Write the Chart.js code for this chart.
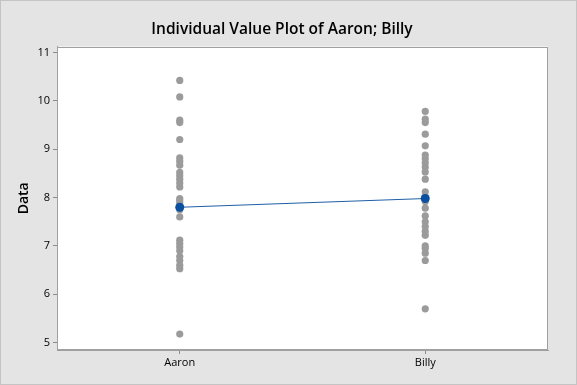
<!DOCTYPE html>
<html>
<head>
<meta charset="utf-8">
<script src="https://cdn.jsdelivr.net/npm/chart.js@4.4.1/dist/chart.umd.min.js"></script>
<style>
  html, body { margin: 0; padding: 0; background: #e4e4e4; }
  #wrap { width: 577px; height: 385px; }
</style>
</head>
<body>
<div id="wrap"><canvas id="chart" width="577" height="385"></canvas></div>
<script>
// groups shown on the x axis
const groups = ['Aaron', 'Billy']
// individual values
const aaronValues = [10.42, 10.08, 9.6, 9.55, 9.2, 8.82, 8.75, 8.67, 8.52, 8.45, 8.38, 8.3, 8.22,
  7.98, 7.93, 7.88, 7.75, 7.6, 7.12, 7.05, 6.98, 6.9, 6.78, 6.7, 6.6, 6.53, 5.18]
const billyValues = [9.78, 9.62, 9.55, 9.31, 9.07, 8.88, 8.8, 8.72, 8.63, 8.53, 8.38, 8.12, 8.02,
  7.92, 7.78, 7.62, 7.5, 7.4, 7.3, 7.22, 7.0, 6.95, 6.85, 6.7, 5.7]
// group means (blue connected points)
const meanValues = [7.8, 7.98]
const yTicks = [5, 6, 7, 8, 9, 10, 11]

const toPoints = (vals, pos) => vals.map(v => ({ x: pos, y: v }))

// grey panel, white plot area, frame
const backdrop = {
  id: 'backdrop',
  beforeDraw(chart) {
    const { ctx, chartArea: a, width, height } = chart
    ctx.save()
    ctx.fillStyle = '#e4e4e4'
    ctx.fillRect(0, 0, width, height)
    ctx.strokeStyle = '#c4c4c4'
    ctx.lineWidth = 1
    ctx.strokeRect(0.5, 0.5, width - 1, height - 1)
    ctx.fillStyle = '#ffffff'
    ctx.fillRect(a.left, a.top, a.right - a.left, a.bottom - a.top)
    ctx.restore()
  },
  afterDatasetsDraw(chart) {
    const { ctx, chartArea: a } = chart
    ctx.save()
    ctx.strokeStyle = '#a0a0a0'
    ctx.lineWidth = 1
    ctx.strokeRect(Math.round(a.left) + 0.5, Math.round(a.top) + 0.5,
      Math.round(a.right - a.left) - 1, Math.round(a.bottom - a.top) - 1)
    ctx.restore()
  }
}

new Chart(document.getElementById('chart'), {
  type: 'scatter',
  data: {
    datasets: [
      {
        label: groups[0],
        data: toPoints(aaronValues, 1),
        backgroundColor: '#9b9b9b',
        borderColor: '#9b9b9b',
        pointRadius: 3.6,
        pointBorderWidth: 0,
        order: 2
      },
      {
        label: groups[1],
        data: toPoints(billyValues, 2),
        backgroundColor: '#9b9b9b',
        borderColor: '#9b9b9b',
        pointRadius: 3.6,
        pointBorderWidth: 0,
        order: 2
      },
      {
        label: 'Mean',
        type: 'line',
        data: meanValues.map((v, i) => ({ x: i + 1, y: v })),
        borderColor: '#1f5fa8',
        backgroundColor: '#0b4fa0',
        pointBackgroundColor: '#0b4fa0',
        borderWidth: 1,
        pointRadius: 4.5,
        pointBorderWidth: 0,
        fill: false,
        order: 0
      }
    ]
  },
  options: {
    responsive: false,
    animation: false,
    layout: { padding: { left: 16, right: 29, top: 0, bottom: 0 } },
    plugins: {
      legend: { display: false },
      tooltip: { enabled: false },
      title: {
        display: true,
        text: 'Individual Value Plot of Aaron; Billy',
        color: '#000000',
        font: { family: 'Open Sans', size: 15.5, weight: '600' },
        padding: { top: 20, bottom: 8 }
      }
    },
    scales: {
      x: {
        type: 'linear',
        min: 0.5,
        max: 2.5,
        afterBuildTicks: scale => { scale.ticks = groups.map((g, i) => ({ value: i + 1 })) },
        afterFit: scale => { scale.height = 35 },
        ticks: {
          callback: v => groups[v - 1],
          color: '#000000',
          font: { family: 'Open Sans', size: 11 },
          padding: 2,
          maxRotation: 0
        },
        grid: { drawOnChartArea: false, tickLength: 4, color: '#8c8c8c' },
        border: { color: '#a0a0a0' }
      },
      y: {
        min: 4.85,
        max: 11.12,
        afterBuildTicks: scale => { scale.ticks = yTicks.map(v => ({ value: v })) },
        afterFit: scale => { scale.width = 41 },
        title: {
          display: true,
          text: 'Data',
          color: '#000000',
          font: { family: 'Open Sans', size: 14, weight: '600' },
          padding: { top: 0, bottom: 0 }
        },
        ticks: {
          color: '#000000',
          font: { family: 'Open Sans', size: 11 },
          padding: 3
        },
        grid: { drawOnChartArea: false, tickLength: 4, color: '#8c8c8c' },
        border: { color: '#a0a0a0' }
      }
    }
  },
  plugins: [backdrop]
})
</script>
</body>
</html>
